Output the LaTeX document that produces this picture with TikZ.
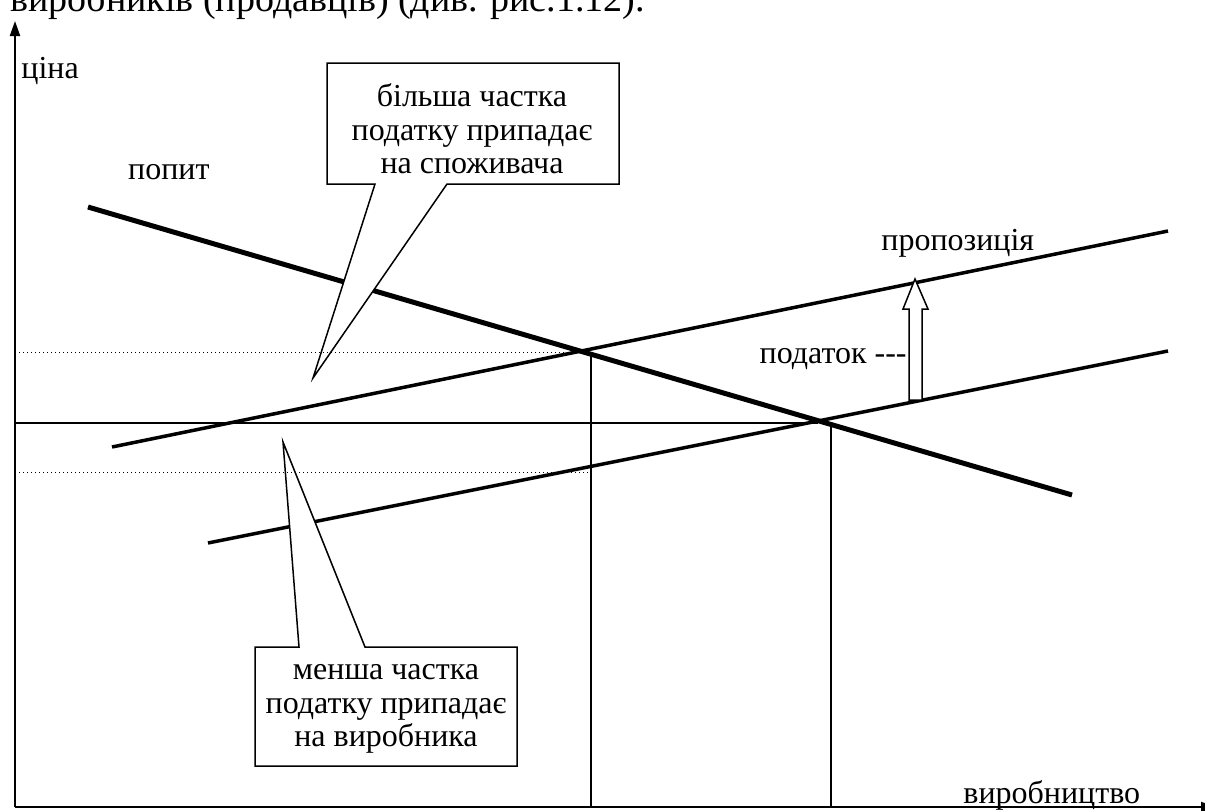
\documentclass[tikz,border=0pt]{standalone}
\usepackage{fontspec}
\setmainfont{Liberation Serif}
\usetikzlibrary{arrows.meta}
\begin{document}
\begin{tikzpicture}[x=0.5pt,y=-0.5pt,
  lbl/.style={inner sep=0pt, font=\fontsize{16}{16.7}\selectfont},
  axisline/.style={line width=1pt, -{Triangle[length=7.5pt,width=5pt]}},
  demand/.style={line width=2.5pt},
  supply/.style={line width=1.75pt},
  guide/.style={line width=0.75pt},
  dots/.style={line width=0.5pt, dash pattern=on 0.5pt off 1.5pt},
  callout/.style={draw, fill=white, line width=0.75pt, line join=miter},
  blockarrow/.style={draw, fill=white, line width=0.75pt, line join=miter},
  ctext/.style={lbl, align=center}]
\useasboundingbox (0,0) rectangle (1205,810);
\fill[white] (0,0) rectangle (1205,810);
\clip (0,0) rectangle (1205,810);

% coordinates
\coordinate (O) at (15,807);
\coordinate (Ytop) at (15,21);
\coordinate (Xend) at (1216,807);
\coordinate (D1) at (88,207);
\coordinate (D2) at (1072,495);
\coordinate (S1a) at (112,447);
\coordinate (S1b) at (1168,231);
\coordinate (S2a) at (208,543);
\coordinate (S2b) at (1168,351);
\coordinate (E1) at (591,352);
\coordinate (E1b) at (591,807);
\coordinate (E2) at (831,423);
\coordinate (E2b) at (831,807);
\coordinate (H1) at (15,423);
\coordinate (H2) at (818,423);
\coordinate (P1a) at (15,352);
\coordinate (P1b) at (578,352);
\coordinate (P2a) at (15,472);
\coordinate (P2b) at (591,472);

% top text (cut off by the frame, as in the reference)
\node[inner sep=0pt, font=\fontsize{19}{21}\selectfont, anchor=base west] (toptext) at (10,11) {виробників (продавців) (див. рис.1.12).};

% axes
\draw[axisline] (O) -- (Ytop);
\draw[axisline] (O) -- (Xend);

% guide lines
\draw[guide] (H1) -- (H2);
\draw[guide] (E1) -- (E1b);
\draw[guide] (E2) -- (E2b);

% curves
\draw[supply] (S1a) -- (S1b);
\draw[supply] (S2a) -- (S2b);
\draw[demand] (D1) -- (D2);

% callouts
\draw[callout] (327,63) -- (619,63) -- (619,184) -- (447,184) -- (313,378) -- (375,184) -- (327,184) -- cycle;
\node[ctext] (upper) at (472,129) {більша частка\\податку припадає\\на споживача};
\draw[callout] (255,647) -- (299,647) -- (283,442) -- (365,647) -- (517,647) -- (517,766) -- (255,766) -- cycle;
\node[ctext] (lower) at (386,709) {менша частка\\податку припадає\\на виробника};

% dotted lines
\draw[dots] (P1a) -- (P1b);
\draw[dots] (P2a) -- (P2b);

% tax arrow
\draw[blockarrow] (909,400) -- (909,309) -- (903,309) -- (915,279) -- (928,309) -- (922,309) -- (922,400) -- cycle;

% labels
\node[lbl, anchor=base west] (price) at (21,78) {ціна};
\node[lbl, anchor=base east] (dem) at (210,179) {попит};
\node[lbl, anchor=base west] (sup) at (881,250) {пропозиція};
\node[lbl, anchor=base east] (tax) at (907,363) {податок -{}-{}-};
\node[lbl, anchor=base west] (prod) at (963,803) {виробництво};
\end{tikzpicture}
\end{document}
